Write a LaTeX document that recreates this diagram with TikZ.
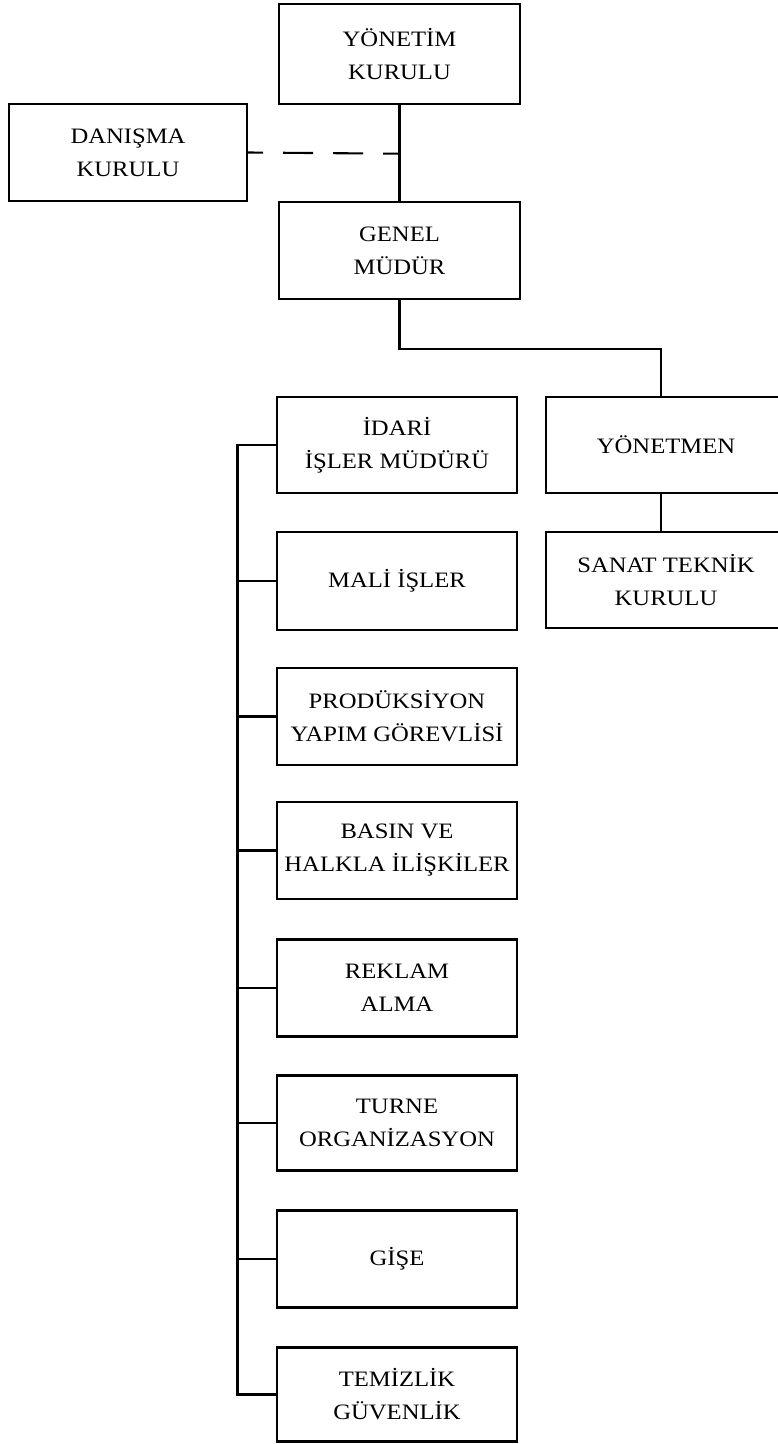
\documentclass[tikz,border=0pt]{standalone}
\usepackage{fontspec}
\setmainfont{Liberation Serif}[FakeStretch=1.12]
\begin{document}
\begin{tikzpicture}[x=1pt,y=-1pt,
  box/.style={draw, line width=2.1pt, rectangle, align=center, inner sep=0pt,
    font=\fontsize{22}{33}\selectfont},
  lbox/.style={box, minimum width=240pt, minimum height=97pt},
  conn/.style={line width=2.1pt}]
\useasboundingbox (0,0) rectangle (778,1444);
% top
\node[box, minimum width=241pt, minimum height=100pt] (yk) at (399.5,54) {YÖNETİM\\KURULU};
\node[box, minimum width=238pt, minimum height=97pt] (dk) at (128,152.5) {DANIŞMA\\KURULU};
\node[box, minimum width=241pt, minimum height=97pt] (gm) at (399.5,250.5) {GENEL\\MÜDÜR};
% right column
\node[lbox, minimum height=96pt] (yon) at (666,445) {YÖNETMEN};
\node[lbox, minimum height=96pt] (sanat) at (666,580) {SANAT TEKNİK\\KURULU};
% left column
\node[lbox, minimum height=96pt] (idari) at (397,445) {İDARİ\\İŞLER MÜDÜRÜ};
\node[lbox, minimum height=98pt] (mali) at (397,581) {MALİ İŞLER};
\node[lbox] (prod) at (397,716.5) {PRODÜKSİYON\\YAPIM GÖREVLİSİ};
\node[lbox] (basin) at (397,850.5) {BASIN VE\\HALKLA İLİŞKİLER};
\node[lbox] (reklam) at (397,988) {REKLAM\\ALMA};
\node[lbox, minimum height=95pt] (turne) at (397,1123) {TURNE\\ORGANİZASYON};
\node[lbox] (gise) at (397,1259) {GİŞE};
\node[lbox, minimum height=94pt] (temiz) at (397,1394.5) {TEMİZLİK\\GÜVENLİK};
% connectors
\coordinate (dj) at (399.5,153.7);
\coordinate (j1) at (399.5,349);
\coordinate (j2) at (661,349);
\coordinate (sp) at (237.5,0);
\draw[conn] (yk.south) -- (gm.north);
\draw[conn, dash pattern=on 30pt off 20pt, dash phase=15pt] (dk.east) -- (dj);
\draw[conn] (gm.south) -- (j1) -- (j2) -- (j2 |- yon.north);
\draw[conn] (j2 |- yon.south) -- (j2 |- sanat.north);
\draw[conn] (idari.west) -- (idari.west -| sp) -- (temiz.west -| sp) -- (temiz.west);
\foreach \n in {mali,prod,basin,reklam,turne,gise}
  \draw[conn] (\n.west) -- (\n.west -| sp);
\end{tikzpicture}
\end{document}
